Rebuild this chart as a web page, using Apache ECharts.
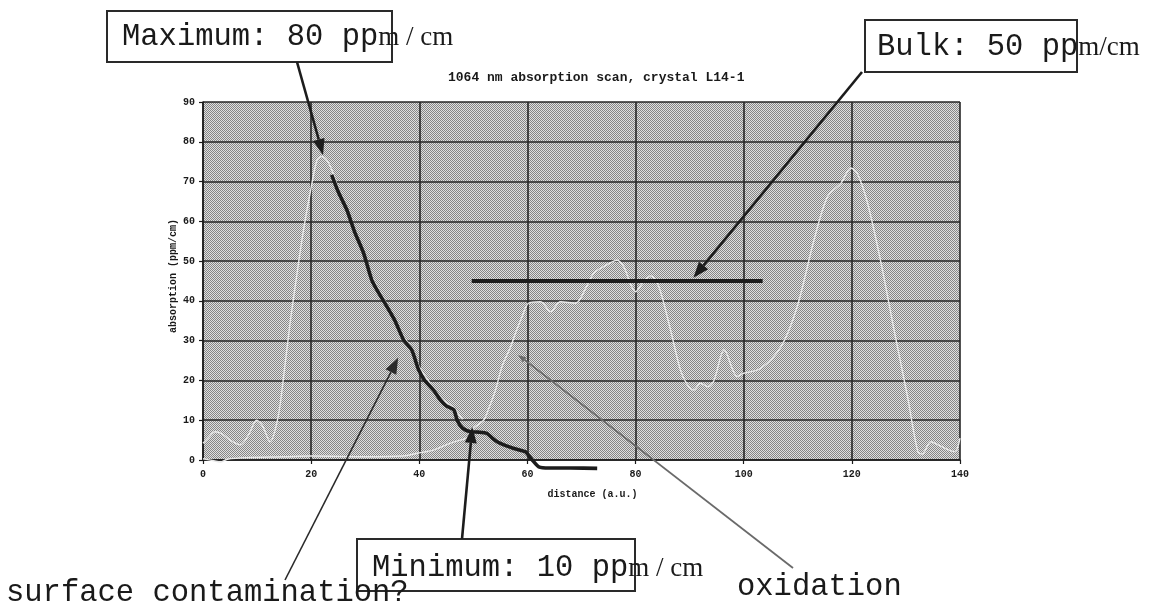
<!DOCTYPE html>
<html>
<head>
<meta charset="utf-8">
<script src="https://cdn.jsdelivr.net/npm/echarts@6/dist/echarts.min.js"></script>
<style>
  html, body { margin: 0; padding: 0; background: #fff; }
  #chart { width: 1166px; height: 612px; }
</style>
</head>
<body>
<div id="chart"></div>
<script>
// 1064 nm absorption scan of crystal L14-1, distance in a.u., absorption in ppm/cm
const chartTitle = '1064 nm absorption scan, crystal L14-1';
const xAxisName = 'distance (a.u.)';
const yAxisName = 'absorption (ppm/cm)';

// first scan: entrance-face peak
const scanEntrance = [
  [0, 4.2], [1, 5.6], [2.2, 7.1], [3.5, 6.6], [5, 5], [6.9, 3.8], [8.5, 6.5],
  [9.9, 10], [11, 8.6], [12.4, 4.6], [13.9, 10.9], [15, 22], [16.1, 34.4],
  [17.4, 47], [18.6, 57.9], [19.8, 67], [21.1, 75.5], [22, 76.3], [23, 75.2],
  [23.8, 73], [25, 68.5], [26.6, 63.5], [28, 58], [29.7, 52.5], [31.2, 46.2],
  [34, 39.2], [37.1, 31], [38.6, 28.2], [40, 23.4], [42.6, 18.2], [44, 15.6],
  [46.4, 13], [48, 10.2]
];

// second scan: bulk and exit-face
const scanBulk = [
  [0, 0.3], [2, -0.2], [3.2, -0.5], [4.5, 0.2], [8, 0.6], [15, 0.8], [20, 1],
  [30, 0.8], [37, 1], [39.6, 1.7], [42.6, 2.5], [45.7, 4.2], [47.6, 5],
  [48.8, 5.6], [50, 8], [51.9, 10], [52.8, 12.8], [54.1, 17.6], [55.3, 23.5],
  [56.9, 28.5], [57.8, 31.9], [59, 36], [60.2, 39.4], [62.4, 39.8],
  [64.3, 37.3], [66.1, 39.8], [68.9, 39.4], [71, 43.8], [72.3, 47],
  [74.1, 48.6], [76.6, 50.2], [77.8, 48.6], [80, 42.3], [81.5, 44.9],
  [82.8, 46.3], [84.3, 43.6], [86.5, 32.5], [88.3, 22.6], [89.6, 18.9],
  [90.8, 17.6], [92, 19.3], [93.4, 18.4], [94.5, 20], [96.4, 27.7],
  [98.8, 21], [100, 21.8], [103.1, 23], [106.9, 28.5], [109.9, 38.6],
  [113, 55.3], [115.5, 66.2], [118, 69.6], [119.8, 73.4], [121, 72.1],
  [122.9, 64.6], [125.4, 49.5], [127.8, 32.7], [130.3, 15.9], [132.2, 2.1],
  [133, 1.5], [134.6, 4.6], [136.5, 3.4], [139, 2.1], [140, 5.5]
];

// surface-contamination decay traced over the first scan
const contaminationTrace = [
  [23.8, 71.7], [25, 67.5], [26.6, 62.9], [28, 57.5], [29.7, 52], [31.2, 45.3],
  [32.5, 42], [34, 38.6], [35.5, 35], [37.1, 30.2], [38.6, 27.7], [39.3, 25],
  [39.9, 22.6], [41, 20], [42.6, 17.6], [43.9, 15.1], [45, 13.6], [46.4, 12.6],
  [47, 10], [48, 8], [49.4, 7.1], [51, 7], [52.5, 6.7], [53.5, 5.5],
  [54.4, 4.6], [56, 3.6], [57.5, 2.9], [59.6, 2.1], [60.3, 1], [60.9, 0],
  [62.1, -1.7], [64, -2], [68, -2], [72.9, -2.1]
];

// bulk absorption level and its extent
const bulkLevel = [[49.7, 45], [103.5, 45]];

// annotation targets (data coordinates)
const maxTarget = [22.2, 76.7];
const bulkTarget = [90.7, 45.8];
const minTarget = [49.8, 8.3];
const contamTarget = [36.1, 25.7];
const oxidTarget = [58.3, 26.4];

const xMin = 0, xMax = 140, xStep = 20;
const yMin = 0, yMax = 90, yStep = 10;

// checkered plot-area fill
const pat = document.createElement('canvas');
pat.width = 2; pat.height = 2;
const pc = pat.getContext('2d');
pc.fillStyle = '#e0e0e0'; pc.fillRect(0, 0, 2, 2);
pc.fillStyle = '#868686'; pc.fillRect(0, 0, 1, 1); pc.fillRect(1, 1, 1, 1);

const mono = '"Liberation Mono", "DejaVu Sans Mono", monospace';
const serif = '"Liberation Serif", "DejaVu Serif", serif';
const labelStyle = { fontFamily: mono, fontWeight: 'bold', fontSize: 10, color: '#1a1a1a' };

const chart = echarts.init(document.getElementById('chart'), null, { renderer: 'canvas' });

chart.setOption({
  backgroundColor: '#ffffff',
  animation: false,
  title: {
    text: chartTitle,
    left: 443, top: 66,
    textStyle: { fontFamily: mono, fontWeight: 'bold', fontSize: 13, color: '#1a1a1a' }
  },
  grid: {
    left: 203, right: 206, top: 102, bottom: 152,
    show: true, borderWidth: 0,
    backgroundColor: { image: pat, repeat: 'repeat' }
  },
  xAxis: {
    type: 'value', min: xMin, max: xMax, interval: xStep,
    name: xAxisName, nameLocation: 'middle', nameGap: 29,
    nameTextStyle: Object.assign({}, labelStyle, { padding: [0, 0, 0, 22] }),
    axisLine: { lineStyle: { color: '#1a1a1a', width: 1.5 } },
    axisTick: { show: true, length: 4, lineStyle: { color: '#1a1a1a', width: 1.2 } },
    axisLabel: Object.assign({ margin: 9 }, labelStyle),
    splitLine: { show: true, lineStyle: { color: '#262626', width: 1.6 } }
  },
  yAxis: {
    type: 'value', min: yMin, max: yMax, interval: yStep,
    name: yAxisName, nameLocation: 'middle', nameGap: 25, nameRotate: 90,
    nameMoveOverlap: false,
    nameTextStyle: Object.assign({}, labelStyle, { padding: [0, 0, 0, 10] }),
    axisLine: { show: true, lineStyle: { color: '#1a1a1a', width: 1.5 } },
    axisTick: { show: true, length: 4, lineStyle: { color: '#1a1a1a', width: 1.2 } },
    axisLabel: Object.assign({ margin: 8 }, labelStyle),
    splitLine: { show: true, lineStyle: { color: '#262626', width: 1.6 } }
  },
  series: [
    {
      type: 'line', data: scanEntrance, smooth: 0.3, symbol: 'none', clip: false,
      lineStyle: { color: '#e8e8e8', width: 1.4 }, z: 3
    },
    {
      type: 'line', data: scanBulk, smooth: 0.3, symbol: 'none', clip: false,
      lineStyle: { color: '#e8e8e8', width: 1.4 }, z: 3
    },
    {
      type: 'line', data: contaminationTrace, smooth: 0.2, symbol: 'none', clip: false,
      lineStyle: { color: '#1c1c1c', width: 3.6 }, z: 4
    },
    {
      type: 'line', data: bulkLevel, symbol: 'none', clip: false,
      lineStyle: { color: '#1c1c1c', width: 4.2 }, z: 4
    }
  ]
});

// arrows and callout boxes
function px(pt) { return chart.convertToPixel({ gridIndex: 0 }, pt); }

function arrow(from, to, width, color, headLen, headWid) {
  const dx = to[0] - from[0], dy = to[1] - from[1];
  const len = Math.hypot(dx, dy);
  const ux = dx / len, uy = dy / len;
  const bx = to[0] - ux * headLen, by = to[1] - uy * headLen;
  const nx = -uy * headWid / 2, ny = ux * headWid / 2;
  return [
    { type: 'line', z: 20, shape: { x1: from[0], y1: from[1], x2: bx, y2: by },
      style: { stroke: color, lineWidth: width } },
    { type: 'polygon', z: 21,
      shape: { points: [[to[0], to[1]], [bx + nx, by + ny], [bx - nx, by - ny]] },
      style: { fill: color } }
  ];
}

function box(x, y, w, h) {
  return { type: 'rect', z: 15, shape: { x: x, y: y, width: w, height: h },
    style: { fill: '#ffffff', stroke: '#2a2a2a', lineWidth: 2 } };
}

function label(x, y, monoText, serifText, size) {
  const cw = size * 0.6;
  const out = [{ type: 'text', z: 25, x: x, y: y,
    style: { text: monoText, font: size + 'px ' + mono, fill: '#1a1a1a', verticalAlign: 'middle', align: 'left' } }];
  if (serifText) {
    out.push({ type: 'text', z: 25, x: x + monoText.length * cw, y: y + 1,
      style: { text: serifText, font: '27px ' + serif, fill: '#1a1a1a', verticalAlign: 'middle', align: 'left' } });
  }
  return out;
}

const fs = 30.5;
const g = [].concat(
  box(107, 11, 285, 51),
  box(865, 20, 212, 52),
  box(357, 539, 278, 52),
  label(122, 37, 'Maximum: 80 pp', 'm / cm', fs),
  label(877, 47, 'Bulk: 50 pp', 'm/cm', fs),
  label(372, 568, 'Minimum: 10 pp', 'm / cm', fs),
  label(6, 593, 'surface contamination?', null, fs),
  label(737, 587, 'oxidation', null, fs),
  arrow([297, 62], px(maxTarget), 2.6, '#1c1c1c', 16, 12),
  arrow([862, 72], px(bulkTarget), 2.6, '#1c1c1c', 16, 12),
  arrow([462, 539], px(minTarget), 2.6, '#1c1c1c', 16, 12),
  arrow([285, 580], px(contamTarget), 1.6, '#2a2a2a', 16, 12),
  arrow([793, 568], px(oxidTarget), 1.8, '#6a6a6a', 8, 6)
);

chart.setOption({ graphic: { elements: g } });
</script>
</body>
</html>
